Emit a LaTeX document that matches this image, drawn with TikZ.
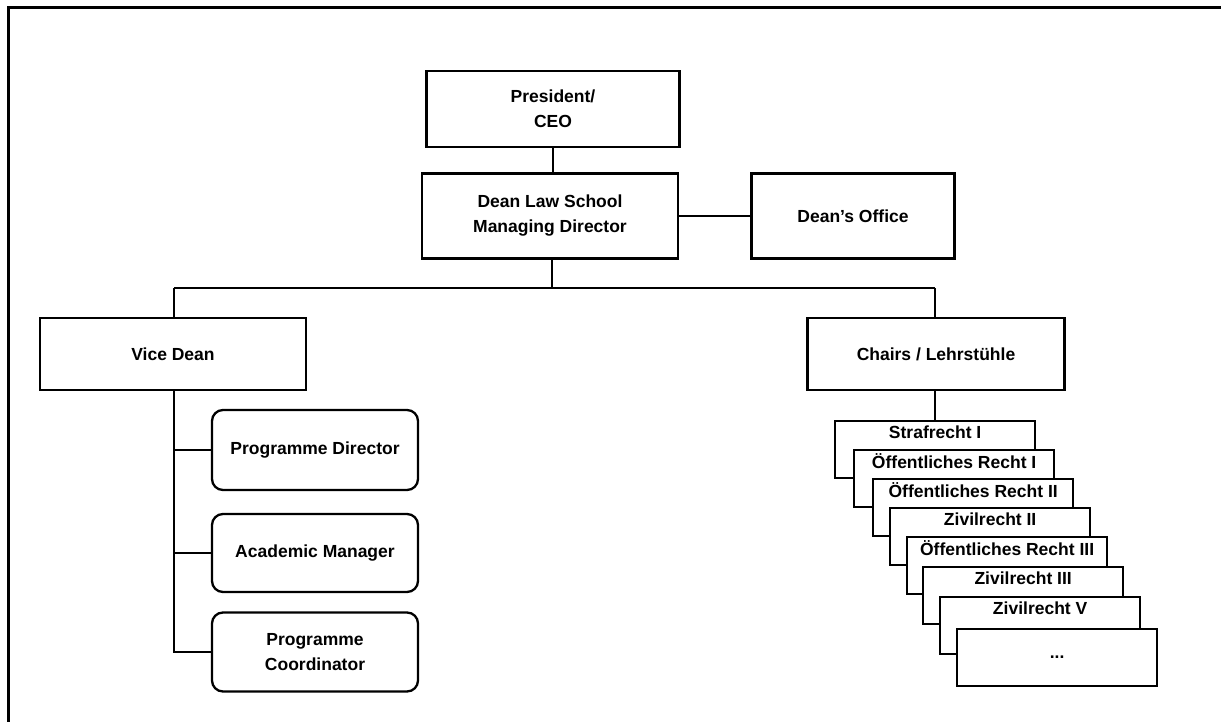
\documentclass[tikz,border=0pt]{standalone}
\usepackage{fontspec}
\setmainfont{Liberation Sans}
\begin{document}
\begin{tikzpicture}[x=1pt,y=-1pt,
  box/.style={draw,line width=2.3pt,fill=white,inner sep=0pt,align=center,font=\bfseries\fontsize{17.5}{25}\selectfont},
  rbox/.style={box,rounded corners=11pt},
  stk/.style={draw,line width=2.3pt,fill=white,inner sep=0pt,minimum width=200pt,minimum height=57pt},
  stklbl/.style={inner sep=0pt,font=\bfseries\fontsize{17.5}{20}\selectfont},
  conn/.style={line width=2.3pt}]
\useasboundingbox (0,0) rectangle (1221,722);
\draw[line width=3pt] (8,722) -- (8,8) -- (1221,8);

\node[box,minimum width=253pt,minimum height=76pt] (pres) at (553,109) {President/\\CEO};
\node[box,minimum width=256pt,minimum height=85pt] (dean) at (550,216) {Dean Law School\\Managing Director};
\node[box,minimum width=203pt,minimum height=85pt] (office) at (853,216) {Dean’s Office};
\node[box,minimum width=266pt,minimum height=72pt] (vice) at (173,354) {Vice Dean};
\node[box,minimum width=257pt,minimum height=72pt] (chairs) at (936,354) {Chairs / Lehrstühle};

\node[rbox,minimum width=206pt,minimum height=80pt] (pd) at (315,450) {Programme Director};
\node[rbox,minimum width=206pt,minimum height=78pt] (am) at (315,553) {Academic Manager};
\node[rbox,minimum width=206pt,minimum height=79pt] (pc) at (315,652) {Programme\\Coordinator};

\coordinate (bj) at (552,288);
\coordinate (bl) at (174,288);
\coordinate (br) at (935,288);

\draw[conn] (pres.south) -- (pres.south |- dean.north);
\draw[conn] (dean) -- (office);
\draw[conn] (bj |- dean.south) -- (bj);
\draw[conn] (bl) -- (br);
\draw[conn] (bl) -- (vice.north -| bl);
\draw[conn] (br) -- (chairs.north -| br);
\coordinate (vt) at (174,390);
\draw[conn] (vt) -- (174,652) -- (pc.west);
\draw[conn] (vt |- pd.west) -- (pd.west);
\draw[conn] (vt |- am.west) -- (am.west);

% stack of chairs
\node[stk,anchor=north west] (s1) at (834,420) {};
\draw[conn] (chairs.south -| br) -- (s1.north -| br);
\node[stklbl] (t1) at ([yshift=-12pt]s1.north) {Strafrecht I};
\node[stk,anchor=north west] (s2) at (853,449) {};
\node[stklbl] (t2) at ([yshift=-12pt]s2.north) {Öffentliches Recht I};
\node[stk,anchor=north west] (s3) at (872,478) {};
\node[stklbl] (t3) at ([yshift=-12pt]s3.north) {Öffentliches Recht II};
\node[stk,anchor=north west] (s4) at (889,507) {};
\node[stklbl] (t4) at ([yshift=-12pt]s4.north) {Zivilrecht II};
\node[stk,anchor=north west] (s5) at (906,536) {};
\node[stklbl] (t5) at ([yshift=-12pt]s5.north) {Öffentliches Recht III};
\node[stk,anchor=north west] (s6) at (922,566) {};
\node[stklbl] (t6) at ([yshift=-12pt]s6.north) {Zivilrecht III};
\node[stk,anchor=north west] (s7) at (939,596) {};
\node[stklbl] (t7) at ([yshift=-12pt]s7.north) {Zivilrecht V};
\node[stk,anchor=north west] (s8) at (956,628) {};
\node[stklbl] (t8) at (s8.center) {...};
\end{tikzpicture}
\end{document}
